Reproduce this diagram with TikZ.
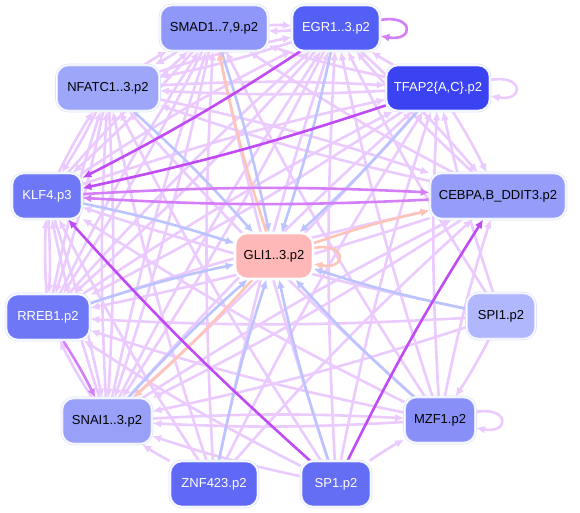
\documentclass[tikz,border=0pt]{standalone}
\usepackage{fontspec}
\setmainfont{Liberation Sans}
\usetikzlibrary{arrows.meta}
\definecolor{lav}{HTML}{EACAFF}
\definecolor{pur}{HTML}{C04AF5}
\definecolor{pmed}{HTML}{D47EFA}
\definecolor{blu}{HTML}{BCC4FF}
\definecolor{pch}{HTML}{FFC4B8}
\definecolor{ring}{HTML}{DCE0FF}
\definecolor{cSmad}{HTML}{8F97F8}
\definecolor{cEgr}{HTML}{5460F5}
\definecolor{cNfat}{HTML}{9EA6FA}
\definecolor{cTfap}{HTML}{3A42F2}
\definecolor{cKlf}{HTML}{6E78F6}
\definecolor{cCebp}{HTML}{959DF8}
\definecolor{cGli}{HTML}{FFB8B8}
\definecolor{cRreb}{HTML}{6E78F6}
\definecolor{cSpi}{HTML}{B1B7FC}
\definecolor{cSnai}{HTML}{98A0F8}
\definecolor{cMzf}{HTML}{8890F8}
\definecolor{cZnf}{HTML}{5F69F5}
\definecolor{cSp}{HTML}{646EF5}
\tikzset{
  tf/.style={rounded corners=12pt, draw=ring, line width=0.7pt, double=white, double distance=1.2pt,
    minimum height=46pt, inner sep=0pt, font=\fontsize{13pt}{15pt}\selectfont},
  e/.style={draw=lav, line width=2.6pt, -{Latex[length=9pt,width=8pt]}, bend left=3},
  eb/.style={e, draw=blu},
  ep/.style={e, draw=pur},
  em/.style={e, draw=pmed},
  ec/.style={e, draw=pch},
}
\begin{document}
\begin{tikzpicture}[x=1pt,y=-1pt]
\useasboundingbox (0,0) rectangle (580,512);
\path
  (214,28)  coordinate (psmad)
  (336,28)  coordinate (pegr)
  (108,88)  coordinate (pnfat)
  (438,88)  coordinate (ptfap)
  (47,196)  coordinate (pklf)
  (498,196) coordinate (pcebp)
  (274,256) coordinate (pgli)
  (48,317)  coordinate (prreb)
  (501,316) coordinate (pspi)
  (107,421) coordinate (psnai)
  (440,420) coordinate (pmzf)
  (214,484) coordinate (pznf)
  (336,484) coordinate (psp1);
\begin{scope}[every node/.style={tf, draw=none, double=none, text=white, fill=none}]
\node[minimum width=108pt] (smad) at (psmad) {};
\node[minimum width=88pt]  (egr)  at (pegr)  {};
\node[minimum width=103pt] (nfat) at (pnfat) {};
\node[minimum width=104pt] (tfap) at (ptfap) {};
\node[minimum width=70pt]  (klf)  at (pklf)  {};
\node[minimum width=136pt] (cebp) at (pcebp) {};
\node[minimum width=78pt]  (gli)  at (pgli)  {};
\node[minimum width=84pt]  (rreb) at (prreb) {};
\node[minimum width=69pt]  (spi)  at (pspi)  {};
\node[minimum width=90pt]  (snai) at (psnai) {};
\node[minimum width=71pt]  (mzf)  at (pmzf)  {};
\node[minimum width=88pt]  (znf)  at (pznf)  {};
\node[minimum width=70pt]  (sp1)  at (psp1)  {};
\end{scope}
% light edges
\foreach \a/\b in {
  sp1/snai, sp1/nfat, sp1/smad, sp1/egr, sp1/tfap, sp1/rreb, sp1/mzf,
  znf/snai, znf/nfat, znf/smad, znf/egr, znf/tfap, znf/cebp, znf/klf,
  mzf/snai, mzf/nfat, mzf/smad, mzf/egr, mzf/tfap, mzf/klf, mzf/rreb, mzf/cebp,
  spi/mzf, spi/snai, spi/klf, spi/egr, spi/tfap, spi/rreb,
  snai/smad, snai/egr, snai/tfap, snai/cebp, snai/nfat, snai/klf, snai/rreb, snai/mzf,
  rreb/klf, rreb/nfat, rreb/smad, rreb/egr, rreb/cebp, rreb/tfap,
  cebp/nfat, cebp/smad, cebp/egr, cebp/snai, cebp/rreb,
  klf/nfat, klf/rreb, klf/snai, klf/smad, klf/egr, klf/tfap,
  nfat/smad, nfat/egr, nfat/klf, nfat/cebp, nfat/snai, nfat/rreb, nfat/tfap,
  tfap/nfat, tfap/egr, tfap/smad, tfap/cebp, tfap/snai, tfap/rreb,
  egr/nfat, egr/smad, egr/snai, egr/rreb, egr/cebp,
  smad/egr, smad/nfat, smad/klf, smad/snai, smad/rreb}
  \draw[e] (\a) to (\b);
% self loops (light)
\draw[e] ([yshift=8pt]tfap.east) .. controls +(34,-6) and +(34,6) .. ([yshift=-8pt]tfap.east);
\draw[e] ([yshift=8pt]mzf.east) .. controls +(34,-6) and +(34,6) .. ([yshift=-8pt]mzf.east);
% blue edges into GLI
\foreach \a in {smad, egr, tfap, nfat, klf, rreb, snai, znf, sp1, mzf, spi}
  \draw[eb] (\a) to (gli);
% peach edges from GLI
\draw[ec] (gli) to (smad);
\draw[ec] (gli) to (snai);
\draw[ec] (gli) to (cebp);
\draw[ec] ([yshift=8pt]gli.east) .. controls +(34,-6) and +(34,6) .. ([yshift=-8pt]gli.east);
% medium purple
\draw[em] (klf) to (cebp);
\draw[em] (cebp) to (klf);
\draw[em] (rreb) to (snai);
% strong purple
\draw[ep] (tfap) to (klf);
\draw[ep] (egr) to (klf);
\draw[ep] (sp1) to (klf);
\draw[ep] (sp1) to (cebp);
\draw[em] ([yshift=8pt]egr.east) .. controls +(34,-6) and +(34,6) .. ([yshift=-8pt]egr.east);
% visible nodes
\node[tf, fill=cSmad, minimum width=108pt] at (psmad) {SMAD1..7,9.p2};
\node[tf, fill=cEgr, text=white, minimum width=88pt] at (pegr) {EGR1..3.p2};
\node[tf, fill=cNfat, minimum width=103pt] at (pnfat) {NFATC1..3.p2};
\node[tf, fill=cTfap, text=white, minimum width=104pt] at (ptfap) {TFAP2\{A,C\}.p2};
\node[tf, fill=cKlf, text=white, minimum width=70pt] at (pklf) {KLF4.p3};
\node[tf, fill=cCebp, minimum width=136pt] at (pcebp) {CEBPA,B\_DDIT3.p2};
\node[tf, fill=cGli, draw=white, minimum width=78pt] at (pgli) {GLI1..3.p2};
\node[tf, fill=cRreb, text=white, minimum width=84pt] at (prreb) {RREB1.p2};
\node[tf, fill=cSpi, minimum width=69pt] at (pspi) {SPI1.p2};
\node[tf, fill=cSnai, minimum width=90pt] at (psnai) {SNAI1..3.p2};
\node[tf, fill=cMzf, minimum width=71pt] at (pmzf) {MZF1.p2};
\node[tf, fill=cZnf, text=white, minimum width=88pt] at (pznf) {ZNF423.p2};
\node[tf, fill=cSp, text=white, minimum width=70pt] at (psp1) {SP1.p2};
\end{tikzpicture}
\end{document}
